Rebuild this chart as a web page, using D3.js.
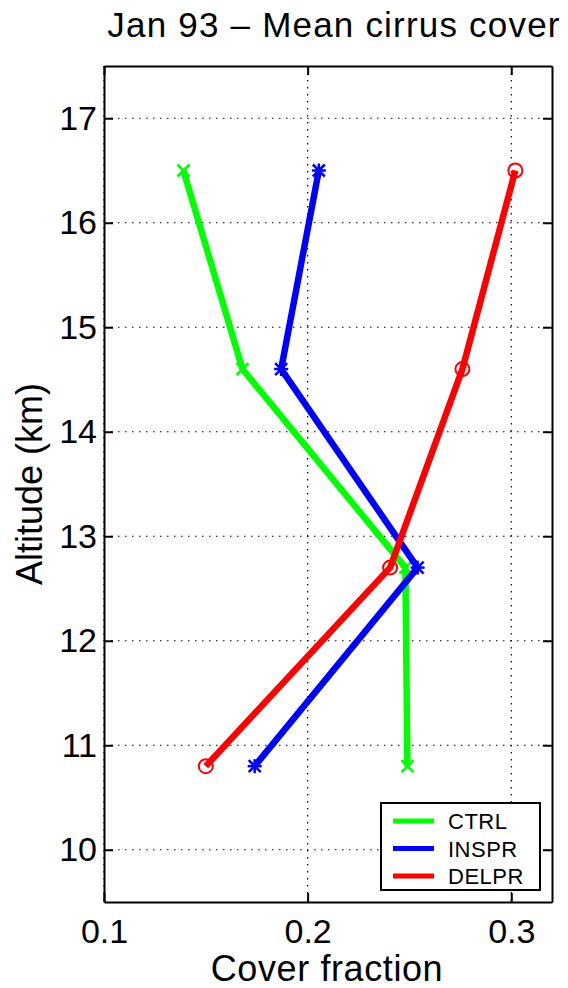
<!DOCTYPE html>
<html>
<head>
<meta charset="utf-8">
<script src="https://cdn.jsdelivr.net/npm/d3@7"></script>
<style>
  body { margin: 0; background: #fff; }
  text { font-family: "Liberation Sans", Arial, sans-serif; fill: #000; }
</style>
</head>
<body>
<svg id="chart"></svg>
<script>
// altitude levels (km) and mean cirrus cover for each run
const altitudes = [16.5, 14.6, 12.7, 10.8];
const ctrl  = [0.139, 0.168, 0.248, 0.249];
const inspr = [0.2055, 0.187, 0.254, 0.174];
const delpr = [0.302, 0.276, 0.2405, 0.150];
const seriesNames = ["CTRL", "INSPR", "DELPR"];
const xTicks = [0.1, 0.2, 0.3];
const yTicks = [10, 11, 12, 13, 14, 15, 16, 17];

const width = 568, height = 988;
const margin = {top: 66, right: 16, bottom: 86, left: 104};
const w = width - margin.left - margin.right;
const h = height - margin.top - margin.bottom;

const series = [
  {name: seriesNames[0], values: ctrl,  color: "#00ff00", marker: "x"},
  {name: seriesNames[1], values: inspr, color: "#0000ff", marker: "star"},
  {name: seriesNames[2], values: delpr, color: "#ff0000", marker: "o"}
];

const svg = d3.select("#chart")
    .attr("width", width)
    .attr("height", height);

const x = d3.scaleLinear().domain([0.1, 0.32]).range([0, w]);
const y = d3.scaleLinear().domain([9.5, 17.5]).range([h, 0]);

const g = svg.append("g")
    .attr("transform", `translate(${margin.left},${margin.top})`);

// dotted grid
g.append("g").selectAll("line")
  .data(xTicks)
  .join("line")
    .attr("x1", d => x(d)).attr("x2", d => x(d))
    .attr("y1", 0).attr("y2", h)
    .attr("stroke", "#000").attr("stroke-width", 1.2)
    .attr("stroke-dasharray", "1.5,5.5");
g.append("g").selectAll("line")
  .data(yTicks)
  .join("line")
    .attr("y1", d => y(d)).attr("y2", d => y(d))
    .attr("x1", 0).attr("x2", w)
    .attr("stroke", "#000").attr("stroke-width", 1.2)
    .attr("stroke-dasharray", "1.5,5.5");

// axes with inward ticks on all four sides
const tickLen = 9;
g.append("g").attr("transform", `translate(0,${h})`)
    .call(d3.axisBottom(x).tickValues(xTicks).tickFormat(d3.format(".1f"))
          .tickSizeInner(-tickLen).tickSizeOuter(0).tickPadding(17));
g.append("g")
    .call(d3.axisLeft(y).tickValues(yTicks).tickFormat(d3.format("d"))
          .tickSizeInner(-tickLen).tickSizeOuter(0).tickPadding(7));
g.append("g")
    .call(d3.axisTop(x).tickValues(xTicks).tickFormat("")
          .tickSizeInner(-tickLen).tickSizeOuter(0));
g.append("g").attr("transform", `translate(${w},0)`)
    .call(d3.axisRight(y).tickValues(yTicks).tickFormat("")
          .tickSizeInner(-tickLen).tickSizeOuter(0));

g.selectAll(".domain").attr("stroke", "#000").attr("stroke-width", 2);
g.selectAll(".tick line").attr("stroke", "#000").attr("stroke-width", 2);
g.selectAll(".tick text")
    .attr("font-size", 34)
    .attr("font-family", "Liberation Sans, Arial, sans-serif");

// lines
const line = d3.line()
    .x(d => x(d[0]))
    .y(d => y(d[1]));

series.forEach(s => {
  const pts = s.values.map((v, i) => [v, altitudes[i]]);
  g.append("path")
      .datum(pts)
      .attr("fill", "none")
      .attr("stroke", s.color)
      .attr("stroke-width", 6.5)
      .attr("stroke-linejoin", "round")
      .attr("d", line);

  const m = g.append("g").selectAll("g")
    .data(pts)
    .join("g")
      .attr("transform", d => `translate(${x(d[0])},${y(d[1])})`);
  if (s.marker === "o") {
    m.append("circle").attr("r", 7)
      .attr("fill", "none").attr("stroke", s.color).attr("stroke-width", 2);
  } else {
    const r = 6;
    let segs = [[-r, -r, r, r], [-r, r, r, -r]];
    if (s.marker === "star") segs = segs.concat([[-r - 1, 0, r + 1, 0], [0, -r - 1, 0, r + 1]]);
    segs.forEach(sg => {
      m.append("line")
        .attr("x1", sg[0]).attr("y1", sg[1]).attr("x2", sg[2]).attr("y2", sg[3])
        .attr("stroke", s.color).attr("stroke-width", 2.5);
    });
  }
});

// title and axis labels
svg.append("text")
    .attr("x", 334).attr("y", 37)
    .attr("text-anchor", "middle")
    .attr("font-size", 35)
    .attr("letter-spacing", 1.2)
    .text("Jan 93 \u2013 Mean cirrus cover");

svg.append("text")
    .attr("x", margin.left + w / 2 - 1).attr("y", 981)
    .attr("text-anchor", "middle")
    .attr("font-size", 36)
    .attr("letter-spacing", 0.6)
    .text("Cover fraction");

svg.append("text")
    .attr("transform", `translate(42,${margin.top + h / 2}) rotate(-90)`)
    .attr("text-anchor", "middle")
    .attr("font-size", 36)
    .text("Altitude (km)");

// legend
const lg = svg.append("g").attr("transform", "translate(381,803)");
lg.append("rect")
    .attr("width", 159).attr("height", 87)
    .attr("fill", "#fff").attr("stroke", "#000").attr("stroke-width", 2);
series.forEach((s, i) => {
  const ly = 18 + i * 27.5;
  lg.append("line")
      .attr("x1", 12).attr("x2", 53).attr("y1", ly).attr("y2", ly)
      .attr("stroke", s.color).attr("stroke-width", 5);
  lg.append("text")
      .attr("x", 67).attr("y", ly + 8)
      .attr("font-size", 22)
      .attr("letter-spacing", 0.5)
      .text(s.name);
});
</script>
</body>
</html>
